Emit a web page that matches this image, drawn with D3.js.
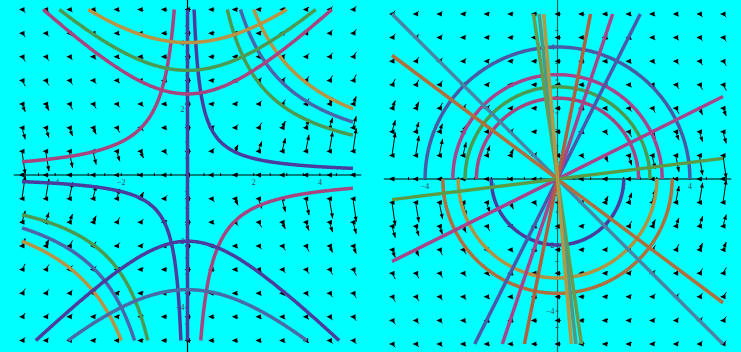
<!DOCTYPE html>
<html>
<head>
<meta charset="utf-8">
<script src="https://cdn.jsdelivr.net/npm/d3@7"></script>
<style>
  body { margin: 0; background: #00ffff; }
  svg { display: block; }
</style>
</head>
<body>
<div id="chart"></div>
<script>
// Left panel: xy = c (both branches), y^2 - x^2 = c (upper / lower branch)
const leftXY = [1, 6, 8, 10, -2];
const leftXYColors = ['#4b3c9e', '#4c9a52', '#4a66a8', '#b89444', '#a8447e'];
const leftUpper = [6, 10, 16];
const leftUpperColors = ['#a8447e', '#4c9a52', '#b89444'];
const leftLower = [4, 12];
const leftLowerColors = ['#4b3c9e', '#4a6aa6'];

// Right panel: x^2 + y^2 = c (upper / lower half), lines y = k x
const rightUpper = [16, 10, 7.8, 6];
const rightUpperColors = ['#4a5aa2', '#a8448a', '#4c9a50', '#a8447e'];
const rightLower = [4, 9, 12];
const rightLowerColors = ['#4b3c9e', '#b09444', '#b0703e'];
const rightSlopes = [-1, -0.75, 0.5, 0.125, 2, 3, 5, -6.9, -9, -12];
const rightSlopeColors = ['#4a84a4', '#b0703e', '#a8448a', '#5c9a44', '#4a5aa8',
  '#a8448a', '#b0603e', '#6a9a4c', '#4a9a86', '#b09a44'];

const tickLabels = [-4, -2, 2, 4];
const gridCount = 15;

const W = 741, H = 352;
const svg = d3.select('#chart').append('svg')
  .attr('width', W).attr('height', H)
  .style('background', '#00ffff');

function panel(xRange, yRange) {
  const x = d3.scaleLinear().domain([-5, 5]).range(xRange);
  const y = d3.scaleLinear().domain([-5, 5]).range(yRange);
  return { x, y, g: svg.append('g') };
}

const left = panel([22, 353], [340.5, 9.5]);
const right = panel([392, 723], [344, 14]);

function drawAxes(p, yAxisColor) {
  const { x, y, g } = p;
  const ax = g.append('g');
  const ticks = d3.range(-5, 5.01, 0.5);
  ax.append('line')
    .attr('x1', x(-5.25)).attr('x2', x(5.25))
    .attr('y1', y(0)).attr('y2', y(0))
    .attr('stroke', '#000').attr('stroke-width', 1);
  ax.append('line')
    .attr('x1', x(0)).attr('x2', x(0))
    .attr('y1', 0).attr('y2', H)
    .attr('stroke', yAxisColor).attr('stroke-width', 1.2);
  ax.selectAll('.xt').data(ticks).enter().append('line')
    .attr('x1', d => x(d)).attr('x2', d => x(d))
    .attr('y1', y(0) - 2).attr('y2', y(0) + 1)
    .attr('stroke', '#000');
  ax.selectAll('.yt').data(ticks).enter().append('line')
    .attr('x1', x(0) - 2).attr('x2', x(0) + 1)
    .attr('y1', d => y(d)).attr('y2', d => y(d))
    .attr('stroke', yAxisColor);
  const fmt = d3.format('d');
  ax.selectAll('.xl').data(tickLabels).enter().append('text')
    .attr('x', d => x(d)).attr('y', y(0) + 10)
    .attr('text-anchor', 'middle')
    .style('font', '8px "Liberation Serif", serif')
    .attr('fill', '#445')
    .text(d => fmt(d));
  ax.selectAll('.yl').data(tickLabels).enter().append('text')
    .attr('x', x(0) - 3).attr('y', d => y(d) + 3)
    .attr('text-anchor', 'end')
    .style('font', '8px "Liberation Serif", serif')
    .attr('fill', '#445')
    .text(d => fmt(d));
}

function drawField(p, slope) {
  const { x, y, g } = p;
  const vals = d3.range(gridCount).map(i => -5 + i * 10 / (gridCount - 1));
  const fg = g.append('g').attr('fill', '#000').attr('stroke', '#000');
  vals.forEach(gx => vals.forEach(gy => {
    const px = x(gx), py = y(gy);
    // tail wedge
    fg.append('path')
      .attr('d', `M${px - 3},${py}L${px + 2.5},${py - 2.5}L${px + 2.5},${py + 2.5}Z`)
      .attr('stroke', 'none');
    if (Math.abs(gy) < 1e-9) return;
    const f = slope(gx, gy);
    let dx = 3.3, dy = -3.3 * f;
    const len = Math.hypot(dx, dy);
    const cap = 24;
    if (len > cap) { dx *= cap / len; dy *= cap / len; }
    const tx = px + dx, ty = py + dy;
    fg.append('line')
      .attr('x1', px).attr('y1', py).attr('x2', tx).attr('y2', ty)
      .attr('stroke-width', 1);
    const L = Math.hypot(dx, dy);
    if (L > 7) {
      const ux = dx / L, uy = dy / L;
      const hx = tx - ux * 5, hy = ty - uy * 5;
      fg.append('path')
        .attr('d', `M${tx},${ty}L${hx - uy * 2},${hy + ux * 2}L${hx + uy * 2},${hy - ux * 2}Z`)
        .attr('stroke', 'none');
    }
  }));
}

function curve(p, pts, color) {
  const line = d3.line().x(d => p.x(d[0])).y(d => p.y(d[1]));
  p.g.append('path')
    .datum(pts)
    .attr('d', line)
    .attr('fill', 'none')
    .attr('stroke', color)
    .attr('stroke-width', 3.5)
    .attr('stroke-linecap', 'butt');
}

function samples(a, b, n = 240) {
  return d3.range(n + 1).map(i => a + (b - a) * i / n);
}

// ----- left panel -----
drawAxes(left, '#000');
drawField(left, (x, y) => x / y);
curve(left, [[0, -5], [0, 5]], '#4b3c9e');
leftXY.forEach((c, i) => {
  const a = Math.abs(c) / 5;
  curve(left, samples(a, 5).map(x => [x, c / x]), leftXYColors[i]);
  curve(left, samples(-5, -a).map(x => [x, c / x]), leftXYColors[i]);
});
leftUpper.forEach((c, i) => {
  const m = Math.sqrt(25 - c);
  curve(left, samples(-m, m).map(x => [x, Math.sqrt(x * x + c)]), leftUpperColors[i]);
});
leftLower.forEach((c, i) => {
  const m = Math.sqrt(25 - c);
  curve(left, samples(-m, m).map(x => [x, -Math.sqrt(x * x + c)]), leftLowerColors[i]);
});

// ----- right panel -----
drawAxes(right, '#1d5e58');
drawField(right, (x, y) => -x / y);
rightUpper.forEach((c, i) => {
  const r = Math.sqrt(c);
  curve(right, samples(0, Math.PI).map(t => [r * Math.cos(t), r * Math.sin(t)]), rightUpperColors[i]);
});
rightLower.forEach((c, i) => {
  const r = Math.sqrt(c);
  curve(right, samples(Math.PI, 2 * Math.PI).map(t => [r * Math.cos(t), r * Math.sin(t)]), rightLowerColors[i]);
});
rightSlopes.forEach((k, i) => {
  const m = Math.min(5, 5 / Math.abs(k));
  curve(right, [[-m, -k * m], [m, k * m]], rightSlopeColors[i]);
});
</script>
</body>
</html>
